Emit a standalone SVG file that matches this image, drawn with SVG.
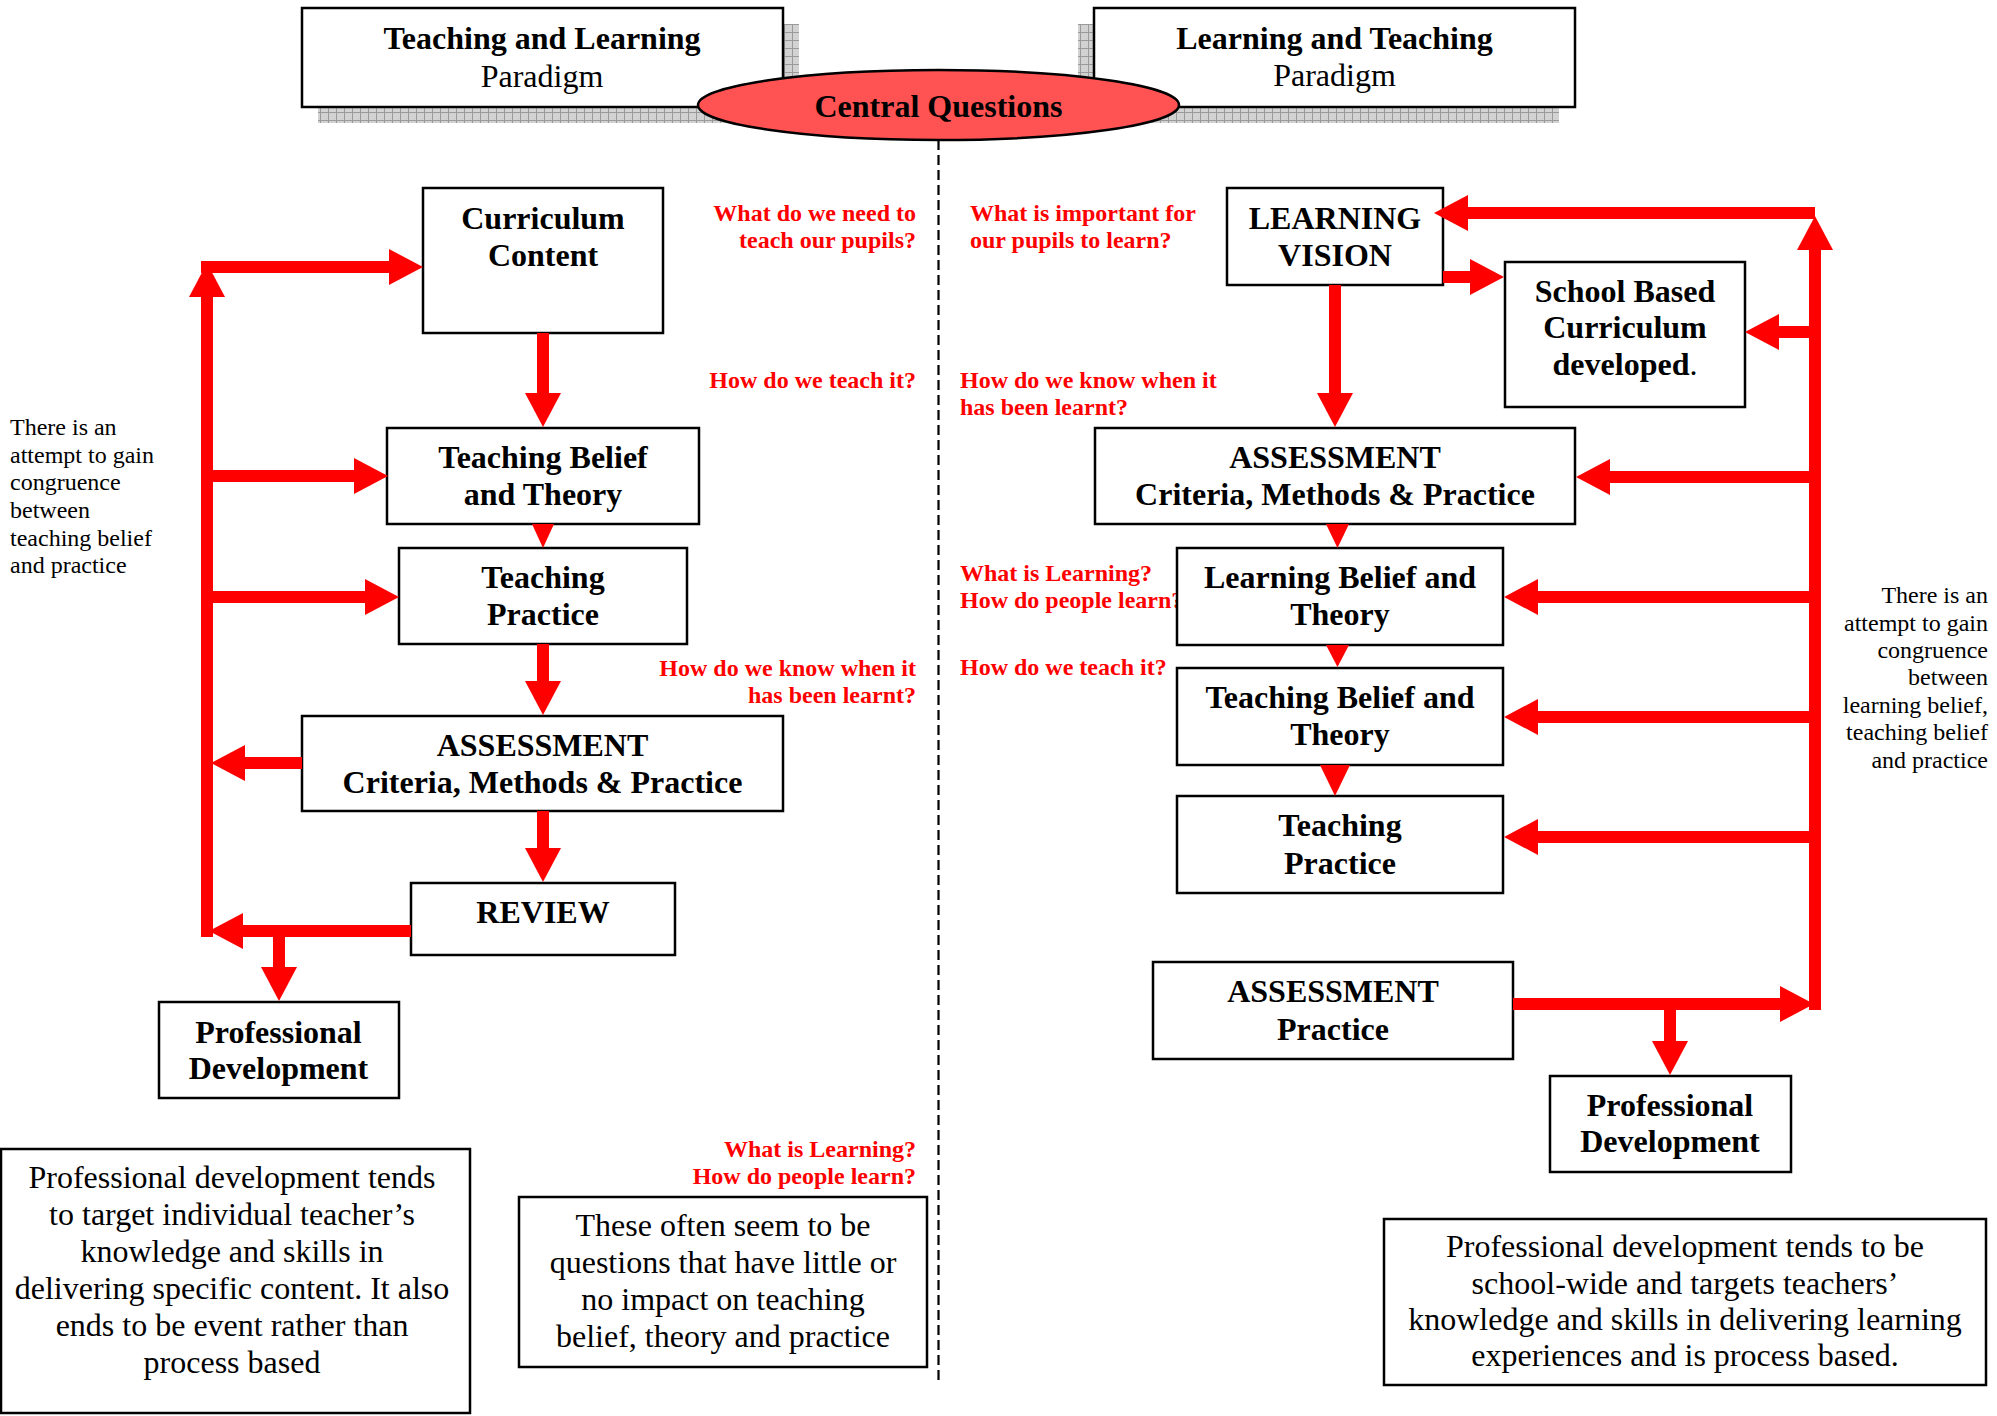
<svg xmlns="http://www.w3.org/2000/svg" width="1997" height="1416" viewBox="0 0 1997 1416">
  <defs>
    <style>
      .box { fill: #fff; stroke: #000; stroke-width: 2.5; }
      .shadow { fill: url(#grid); }
      text { font-family: "Liberation Serif", "Times New Roman", serif; }
      .lbl { font-size: 32px; font-weight: bold; text-anchor: middle; fill: #000; }
      .reg { font-weight: normal; }
      .para { font-size: 32px; text-anchor: middle; fill: #000; }
      .note { font-size: 24px; fill: #000; }
      .q { font-size: 24px; font-weight: bold; fill: #f00; }
      .end { text-anchor: end; }
      .shaft { stroke: #f00; stroke-width: 12; fill: none; marker-end: url(#ah); }
      .tri { fill: #f00; }
    </style>
    <pattern id="grid" width="8" height="8" patternUnits="userSpaceOnUse">
      <rect width="8" height="8" fill="#d2d2d2"/>
      <path d="M0,0.5 H8 M0.5,0 V8" stroke="#9a9a9a" stroke-width="1"/>
    </pattern>
    <marker id="ah" markerUnits="userSpaceOnUse" orient="auto" refX="0" refY="0" markerWidth="40" markerHeight="40" overflow="visible">
      <path d="M0,-18 L34,0 L0,18 z" fill="#f00"/>
    </marker>
  </defs>

  <rect width="1997" height="1416" fill="#fff"/>

  <!-- centre divider -->
  <line x1="938.5" y1="140" x2="938.5" y2="1380" stroke="#000" stroke-width="2.2" stroke-dasharray="10 5"/>

  <!-- guiding questions -->
  <g id="questions">
    <text class="q end" x="916" y="221">What do we need to</text>
    <text class="q end" x="916" y="248">teach our pupils?</text>
    <text class="q end" x="916" y="388">How do we teach it?</text>
    <text class="q end" x="916" y="676">How do we know when it</text>
    <text class="q end" x="916" y="703">has been learnt?</text>
    <text class="q end" x="916" y="1157">What is Learning?</text>
    <text class="q end" x="916" y="1184">How do people learn?</text>

    <text class="q" x="970" y="221">What is important for</text>
    <text class="q" x="970" y="248">our pupils to learn?</text>
    <text class="q" x="960" y="388">How do we know when it</text>
    <text class="q" x="960" y="415">has been learnt?</text>
    <text class="q" x="960" y="581">What is Learning?</text>
    <text class="q" x="960" y="608">How do people learn?</text>
    <text class="q" x="960" y="675">How do we teach it?</text>
  </g>

  <!-- side notes -->
  <g id="note-left">
    <text class="note" x="10" y="435">There is an</text>
    <text class="note" x="10" y="463">attempt to gain</text>
    <text class="note" x="10" y="490">congruence</text>
    <text class="note" x="10" y="518">between</text>
    <text class="note" x="10" y="546">teaching belief</text>
    <text class="note" x="10" y="573">and practice</text>
  </g>
  <g id="note-right">
    <text class="note end" x="1988" y="603">There is an</text>
    <text class="note end" x="1988" y="631">attempt to gain</text>
    <text class="note end" x="1988" y="658">congruence</text>
    <text class="note end" x="1988" y="685">between</text>
    <text class="note end" x="1988" y="713">learning belief,</text>
    <text class="note end" x="1988" y="740">teaching belief</text>
    <text class="note end" x="1988" y="768">and practice</text>
  </g>

  <!-- paradigm headers -->
  <g id="paradigm-teaching">
    <rect class="shadow" x="318" y="24" width="481" height="99"/>
    <rect class="box" x="302" y="8" width="481" height="99"/>
    <text class="lbl" x="542" y="49">Teaching and Learning</text>
    <text class="lbl reg" x="542" y="87">Paradigm</text>
  </g>
  <g id="paradigm-learning">
    <rect class="shadow" x="1078" y="24" width="481" height="99"/>
    <rect class="box" x="1094" y="8" width="481" height="99"/>
    <text class="lbl" x="1334.5" y="49">Learning and Teaching</text>
    <text class="lbl reg" x="1334.5" y="86">Paradigm</text>
  </g>
  <g id="central-questions">
    <ellipse cx="938.5" cy="105" rx="240.5" ry="35" fill="#ff5252" stroke="#000" stroke-width="2.5"/>
    <text class="lbl" x="938.5" y="117">Central Questions</text>
  </g>

  <!-- left flow: teaching and learning -->
  <g id="curriculum-content">
    <rect class="box" x="423" y="188" width="240" height="145"/>
    <text class="lbl" x="543" y="229">Curriculum</text>
    <text class="lbl" x="543" y="266">Content</text>
  </g>
  <g id="teaching-belief-left">
    <rect class="box" x="387" y="428" width="312" height="96"/>
    <text class="lbl" x="543" y="468">Teaching Belief</text>
    <text class="lbl" x="543" y="505">and Theory</text>
  </g>
  <g id="teaching-practice-left">
    <rect class="box" x="399" y="548" width="288" height="96"/>
    <text class="lbl" x="543" y="588">Teaching</text>
    <text class="lbl" x="543" y="625">Practice</text>
  </g>
  <g id="assessment-left">
    <rect class="box" x="302" y="716" width="481" height="95"/>
    <text class="lbl" x="542.5" y="756">ASSESSMENT</text>
    <text class="lbl" x="542.5" y="793">Criteria, Methods &amp; Practice</text>
  </g>
  <g id="review">
    <rect class="box" x="411" y="883" width="264" height="72"/>
    <text class="lbl" x="543" y="923">REVIEW</text>
  </g>
  <g id="pd-left">
    <rect class="box" x="159" y="1002" width="240" height="96"/>
    <text class="lbl" x="278.5" y="1043">Professional</text>
    <text class="lbl" x="278.5" y="1079">Development</text>
  </g>
  <g id="pd-left-comment">
    <rect class="box" x="1" y="1149" width="469" height="264"/>
    <text class="para" x="232" y="1188">Professional development tends</text>
    <text class="para" x="232" y="1225">to target individual teacher’s</text>
    <text class="para" x="232" y="1262">knowledge and skills in</text>
    <text class="para" x="232" y="1299">delivering specific content. It also</text>
    <text class="para" x="232" y="1336">ends to be event rather than</text>
    <text class="para" x="232" y="1373">process based</text>
  </g>
  <g id="questions-comment">
    <rect class="box" x="519" y="1197" width="408" height="170"/>
    <text class="para" x="723" y="1236">These often seem to be</text>
    <text class="para" x="723" y="1273">questions that have little or</text>
    <text class="para" x="723" y="1310">no impact on teaching</text>
    <text class="para" x="723" y="1347">belief, theory and practice</text>
  </g>

  <!-- right flow: learning and teaching -->
  <g id="learning-vision">
    <rect class="box" x="1227" y="188" width="216" height="97"/>
    <text class="lbl" x="1335" y="229">LEARNING</text>
    <text class="lbl" x="1335" y="266">VISION</text>
  </g>
  <g id="school-curriculum">
    <rect class="box" x="1505" y="262" width="240" height="145"/>
    <text class="lbl" x="1625" y="302">School Based</text>
    <text class="lbl" x="1625" y="338">Curriculum</text>
    <text class="lbl" x="1625" y="375">developed<tspan class="reg">.</tspan></text>
  </g>
  <g id="assessment-right">
    <rect class="box" x="1095" y="428" width="480" height="96"/>
    <text class="lbl" x="1335" y="468">ASSESSMENT</text>
    <text class="lbl" x="1335" y="505">Criteria, Methods &amp; Practice</text>
  </g>
  <g id="learning-belief">
    <rect class="box" x="1177" y="548" width="326" height="97"/>
    <text class="lbl" x="1340" y="588">Learning Belief and</text>
    <text class="lbl" x="1340" y="625">Theory</text>
  </g>
  <g id="teaching-belief-right">
    <rect class="box" x="1177" y="668" width="326" height="97"/>
    <text class="lbl" x="1340" y="708">Teaching Belief and</text>
    <text class="lbl" x="1340" y="745">Theory</text>
  </g>
  <g id="teaching-practice-right">
    <rect class="box" x="1177" y="796" width="326" height="97"/>
    <text class="lbl" x="1340" y="836">Teaching</text>
    <text class="lbl" x="1340" y="874">Practice</text>
  </g>
  <g id="assessment-practice">
    <rect class="box" x="1153" y="962" width="360" height="97"/>
    <text class="lbl" x="1333" y="1002">ASSESSMENT</text>
    <text class="lbl" x="1333" y="1040">Practice</text>
  </g>
  <g id="pd-right">
    <rect class="box" x="1550" y="1076" width="241" height="96"/>
    <text class="lbl" x="1670" y="1116">Professional</text>
    <text class="lbl" x="1670" y="1152">Development</text>
  </g>
  <g id="pd-right-comment">
    <rect class="box" x="1384" y="1219" width="602" height="166"/>
    <text class="para" x="1685" y="1257">Professional development tends to be</text>
    <text class="para" x="1685" y="1294">school-wide and targets teachers’</text>
    <text class="para" x="1685" y="1330">knowledge and skills in delivering learning</text>
    <text class="para" x="1685" y="1366">experiences and is process based.</text>
  </g>

  <!-- connectors -->
  <g id="connectors">
    <!-- left flow -->
    <path class="shaft" d="M543,333 V393"/>
    <polygon class="tri" points="532,524 554,524 543,548"/>
    <path class="shaft" d="M543,644 V681"/>
    <path class="shaft" d="M543,811 V848"/>
    <path class="shaft" d="M207,937 V297"/>
    <path class="shaft" d="M201,267 H389"/>
    <path class="shaft" d="M207,476 H354"/>
    <path class="shaft" d="M207,597 H365"/>
    <path class="shaft" d="M302,763 H245"/>
    <path class="shaft" d="M411,931 H243"/>
    <path class="shaft" d="M279,931 V967"/>

    <!-- right flow -->
    <path class="shaft" d="M1335,285 V393"/>
    <path class="shaft" d="M1443,277 H1470"/>
    <path class="shaft" d="M1815,1010 V250"/>
    <path class="shaft" d="M1815,213 H1468"/>
    <path class="shaft" d="M1815,332 H1779"/>
    <path class="shaft" d="M1815,477 H1610"/>
    <path class="shaft" d="M1815,597 H1538"/>
    <path class="shaft" d="M1815,717 H1538"/>
    <path class="shaft" d="M1815,837 H1538"/>
    <path class="shaft" d="M1513,1004 H1780"/>
    <path class="shaft" d="M1670,1004 V1041"/>
    <polygon class="tri" points="1326,524 1349,524 1337.5,548"/>
    <polygon class="tri" points="1326,645 1349,645 1337.5,667"/>
    <polygon class="tri" points="1320,765 1350,765 1335,796"/>
  </g>
</svg>
